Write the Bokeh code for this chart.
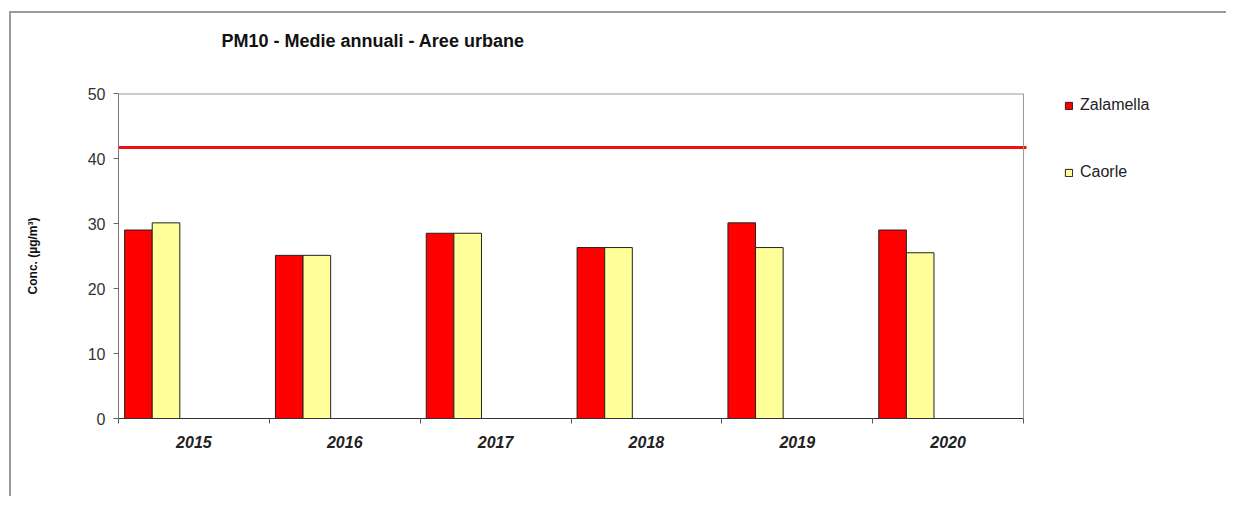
from bokeh.plotting import figure
from bokeh.models import FixedTicker, Span, Legend, LegendItem, ColumnDataSource, Range1d
from bokeh.transform import dodge
from bokeh.embed import file_html
from bokeh.resources import INLINE

years = ["2015", "2016", "2017", "2018", "2019", "2020"]
zalamella = [29.0, 25.1, 28.5, 26.3, 30.1, 29.0]
caorle = [30.1, 25.1, 28.5, 26.3, 26.3, 25.5]
limit_value = 41.7
y_ticks = [0, 10, 20, 30, 40, 50]
series_names = ["Zalamella", "Caorle"]
chart_title = "PM10 - Medie annuali - Aree urbane"

FONT = "Liberation Sans"

n = len(years)
centers = [i + 0.5 for i in range(n)]
boundaries = list(range(n + 1))
src = ColumnDataSource(dict(x=centers, z=zalamella, c=caorle, year=years))

# plot area is 905 px wide for the categories; frame extended to host the legend
plot_px = 905
frame_px = 1110
x_end = n * frame_px / plot_px

p = figure(width=1217, height=485, output_backend="svg", toolbar_location=None,
           x_range=Range1d(0, x_end), y_range=Range1d(0, 50),
           min_border_left=107, min_border_right=0, min_border_top=80, min_border_bottom=80)
p.styles = {"border-top": "2px solid #9a9a9a", "border-left": "2px solid #9a9a9a",
            "margin-top": "11px", "margin-left": "9px"}

p.title.text = chart_title + "\n "
p.title.text_font = FONT
p.title.text_font_size = "18px"
p.title.text_font_style = "bold"
p.title.text_color = "#111111"
p.title.align = "left"
p.title.offset = 103
p.title.standoff = 30
p.title.text_line_height = 1.4

p.background_fill_color = "white"
p.border_fill_color = "white"
p.outline_line_color = None
p.xgrid.visible = False
p.ygrid.visible = False

# plot-area border (top and right) in light grey
p.segment(x0=[0], y0=[50], x1=[n], y1=[50], line_color="#9a9a9a", line_width=2)
p.add_layout(Span(location=n, dimension="height", line_color="#9a9a9a", line_width=1))

r1 = p.vbar(x=dodge("x", -0.368, range=p.x_range), top="z", width=0.183, source=src,
            fill_color="#ff0000", line_color="#222222", line_width=1)
r2 = p.vbar(x=dodge("x", -0.185, range=p.x_range), top="c", width=0.183, source=src,
            fill_color="#ffff99", line_color="#222222", line_width=1)

p.segment(x0=[0], y0=[limit_value], x1=[n + 0.02], y1=[limit_value], line_color="#ee1111", line_width=3)

xa = p.xaxis[0]
xa.bounds = (0, n)
xa.ticker = FixedTicker(ticks=centers, minor_ticks=boundaries)
xa.major_label_overrides = {c: y for c, y in zip(centers, years)}
xa.major_tick_out = 0
xa.major_tick_in = 0
xa.minor_tick_out = 5
xa.minor_tick_in = 0
xa.minor_tick_line_color = "#555555"
xa.axis_line_color = "#333333"
xa.major_label_text_font = FONT
xa.major_label_text_font_size = "16px"
xa.major_label_text_font_style = "bold italic"
xa.major_label_text_color = "#222222"
xa.major_label_standoff = 12

ya = p.yaxis[0]
ya.ticker = FixedTicker(ticks=y_ticks, minor_ticks=[])
ya.major_tick_out = 5
ya.major_tick_in = 0
ya.minor_tick_out = 0
ya.minor_tick_in = 0
ya.major_tick_line_color = "#666666"
ya.axis_line_color = "#777777"
ya.major_label_text_font = FONT
ya.major_label_text_font_size = "16px"
ya.major_label_text_color = "#333333"
ya.major_label_standoff = 8
ya.axis_label = "Conc. (µg/m³)"
ya.axis_label_text_font = FONT
ya.axis_label_text_font_size = "12px"
ya.axis_label_text_font_style = "bold"
ya.axis_label_text_color = "#111111"
ya.axis_label_standoff = 45

legend = Legend(items=[LegendItem(label=series_names[0], renderers=[r1]),
                       LegendItem(label=series_names[1], renderers=[r2])],
                location=(946, 236), padding=0, margin=0, spacing=47,
                glyph_width=9, glyph_height=9, label_height=20, label_standoff=7,
                label_text_font=FONT, label_text_font_size="16px", label_text_color="#222222",
                border_line_alpha=0, background_fill_alpha=0)
p.add_layout(legend)

open("out.html", "w").write(file_html(p, INLINE))
